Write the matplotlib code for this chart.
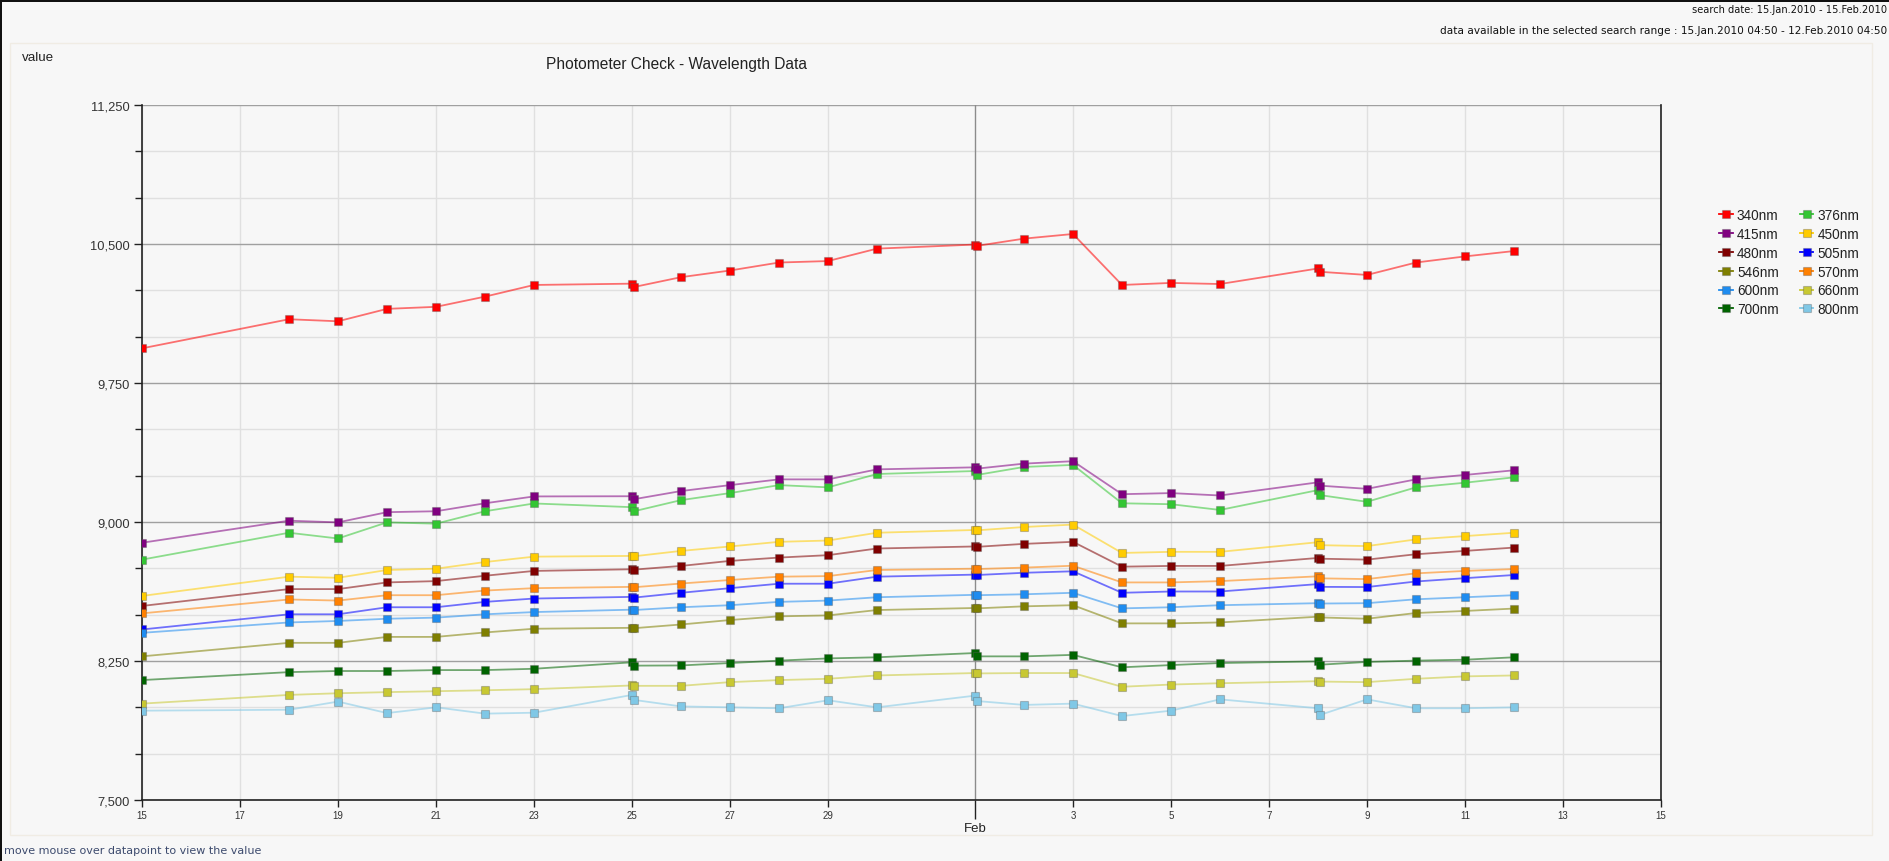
import matplotlib
matplotlib.use("Agg")
import matplotlib.pyplot as plt
from matplotlib.lines import Line2D
from matplotlib.patches import Rectangle
import pandas as pd
import numpy as np

plt.rcParams['font.family'] = ['Liberation Sans', 'DejaVu Sans']

# ---------------- data ----------------
dates = ["2010-01-15 00:00", "2010-01-18 00:00", "2010-01-19 00:00", "2010-01-20 00:00",
         "2010-01-21 00:00", "2010-01-22 00:00", "2010-01-23 00:00", "2010-01-25 00:00",
         "2010-01-25 01:00", "2010-01-26 00:00", "2010-01-27 00:00", "2010-01-28 00:00",
         "2010-01-29 00:00", "2010-01-30 00:00", "2010-02-01 00:00", "2010-02-01 01:00",
         "2010-02-02 00:00", "2010-02-03 00:00", "2010-02-04 00:00", "2010-02-05 00:00",
         "2010-02-06 00:00", "2010-02-08 00:00", "2010-02-08 01:00", "2010-02-09 00:00",
         "2010-02-10 00:00", "2010-02-11 00:00", "2010-02-12 00:00"]

nm340 = [9937, 10094, 10083, 10150, 10161, 10216, 10279, 10286, 10268, 10321, 10357, 10400, 10408, 10475,
         10497, 10490, 10529, 10554, 10279, 10290, 10284, 10368, 10350, 10333, 10400, 10433, 10462]
nm376 = [8797, 8942, 8911, 8998, 8991, 9058, 9100, 9080, 9058, 9118, 9156, 9199, 9187, 9259,
         9275, 9254, 9297, 9308, 9101, 9096, 9065, 9172, 9145, 9109, 9187, 9212, 9241]
nm415 = [8888, 9007, 8998, 9053, 9058, 9101, 9138, 9139, 9123, 9167, 9199, 9230, 9230, 9284,
         9295, 9288, 9315, 9328, 9150, 9156, 9143, 9214, 9196, 9179, 9230, 9254, 9279]
nm450 = [8601, 8705, 8699, 8741, 8748, 8784, 8813, 8817, 8815, 8844, 8868, 8893, 8900, 8942,
         8957, 8955, 8973, 8986, 8833, 8839, 8839, 8891, 8875, 8870, 8906, 8924, 8942]
nm480 = [8547, 8638, 8638, 8674, 8681, 8710, 8736, 8745, 8743, 8763, 8790, 8808, 8821, 8857,
         8868, 8866, 8882, 8893, 8759, 8763, 8763, 8806, 8802, 8797, 8826, 8844, 8862]
nm505 = [8420, 8502, 8502, 8540, 8540, 8569, 8587, 8596, 8592, 8618, 8643, 8667, 8667, 8705,
         8716, 8714, 8726, 8734, 8618, 8625, 8625, 8665, 8650, 8649, 8679, 8697, 8714]
nm546 = [8275, 8348, 8348, 8380, 8380, 8404, 8424, 8429, 8427, 8447, 8471, 8491, 8496, 8525,
         8536, 8534, 8545, 8551, 8453, 8453, 8458, 8489, 8485, 8478, 8509, 8520, 8533]
nm570 = [8507, 8582, 8576, 8605, 8605, 8630, 8643, 8650, 8648, 8668, 8687, 8705, 8708, 8741,
         8748, 8746, 8754, 8764, 8674, 8674, 8681, 8707, 8696, 8692, 8723, 8736, 8746]
nm600 = [8402, 8458, 8466, 8478, 8484, 8502, 8514, 8527, 8525, 8540, 8551, 8569, 8576, 8594,
         8607, 8605, 8610, 8618, 8534, 8540, 8551, 8562, 8560, 8562, 8583, 8594, 8605]
nm660 = [8020, 8067, 8076, 8082, 8087, 8092, 8098, 8118, 8116, 8116, 8136, 8147, 8154, 8172,
         8185, 8183, 8185, 8185, 8111, 8123, 8130, 8141, 8139, 8136, 8154, 8167, 8172]
nm700 = [8147, 8190, 8196, 8196, 8201, 8201, 8208, 8243, 8225, 8226, 8239, 8252, 8264, 8270,
         8293, 8275, 8275, 8283, 8216, 8228, 8239, 8248, 8230, 8245, 8252, 8257, 8270]
nm800 = [7982, 7987, 8031, 7969, 8000, 7966, 7971, 8067, 8040, 8005, 8000, 7995, 8038, 8000,
         8063, 8034, 8013, 8020, 7953, 7982, 8043, 7995, 7959, 8043, 7995, 7995, 8000]

series_names = ["340nm", "376nm", "415nm", "450nm", "480nm", "505nm",
                "546nm", "570nm", "600nm", "660nm", "700nm", "800nm"]
series_values = [nm340, nm376, nm415, nm450, nm480, nm505,
                 nm546, nm570, nm600, nm660, nm700, nm800]
series_colors = ["#FF0000", "#33C633", "#800080", "#FFCC00", "#800000", "#0000FF",
                 "#7F7F00", "#FF8000", "#1E8CF0", "#C8C832", "#006400", "#80C8E6"]

y_ticks = [7500, 8250, 9000, 9750, 10500, 11250]
x_tick_days = ["2010-01-15", "2010-01-17", "2010-01-19", "2010-01-21", "2010-01-23",
               "2010-01-25", "2010-01-27", "2010-01-29", "2010-02-03",
               "2010-02-05", "2010-02-07", "2010-02-09", "2010-02-11", "2010-02-13",
               "2010-02-15"]
x_tick_labels = ["15", "17", "19", "21", "23", "25", "27", "29", "3", "5", "7",
                 "9", "11", "13", "15"]
month_tick_day = "2010-02-01"
month_tick_label = "Feb"

# ---------------- figure ----------------
W, H = 1889, 862
fig = plt.figure(figsize=(W / 100, H / 100), dpi=100)
bg = "#F7F7F7"
fig.patch.set_facecolor(bg)


def fx(px):
    return px / W


def fy(py):
    return 1 - py / H


# outer black border (top/left) and faint panel outline
fig.add_artist(Rectangle((0, fy(3)), 1, 3 / H, transform=fig.transFigure,
                         facecolor="#111111", edgecolor="none"))
fig.add_artist(Rectangle((0, 0), 2 / W, 1, transform=fig.transFigure,
                         facecolor="#111111", edgecolor="none"))
fig.add_artist(Rectangle((fx(10), fy(836)), fx(1872) - fx(10), fy(44) - fy(836),
                         transform=fig.transFigure, facecolor="none",
                         edgecolor="#F0ECE4", linewidth=1))

ax = fig.add_axes([fx(142), fy(801), fx(1661) - fx(142), fy(106) - fy(801)])
ax.set_facecolor(bg)

x = pd.to_datetime(dates, format="%Y-%m-%d %H:%M")
handles = {}
for name, vals, col in zip(series_names, series_values, series_colors):
    ax.plot(x, vals, color=col, lw=1.3, alpha=0.55, zorder=3, solid_joinstyle="round")
    ax.plot(x, vals, ls="none", marker="s", markersize=5.2, markerfacecolor=col,
            markeredgecolor=(0.35, 0.35, 0.35, 0.35), markeredgewidth=0.8, zorder=4)
    handles[name] = Line2D([], [], color=col, lw=1.3, marker="s", markersize=5.2,
                           markerfacecolor=col,
                           markeredgecolor=(0.35, 0.35, 0.35, 0.35), markeredgewidth=0.8)

# axes limits & ticks
ax.set_xlim(pd.Timestamp("2010-01-15"), pd.Timestamp("2010-02-15"))
ax.set_ylim(y_ticks[0], y_ticks[-1])

xt = pd.to_datetime(x_tick_days, format="%Y-%m-%d")
ax.set_xticks(xt)
ax.set_xticklabels(x_tick_labels)
ax.set_xticks([pd.Timestamp(month_tick_day)], minor=True)
ax.set_xticklabels([month_tick_label], minor=True)
ax.tick_params(axis="x", which="major", length=5, width=1, color="#222222",
               labelsize=7, labelcolor="#333333", pad=2)
ax.tick_params(axis="x", which="minor", length=14, width=1, color="#222222",
               labelsize=9.5, labelcolor="#222222", pad=2)

ax.set_yticks(y_ticks)
ax.set_yticklabels([f"{v:,}" for v in y_ticks])
ax.set_yticks(np.arange(7500, 11251, 250), minor=True)
ax.tick_params(axis="y", which="major", length=6, width=1, color="#222222",
               labelsize=9.3, labelcolor="#333333", pad=3)
ax.tick_params(axis="y", which="minor", length=5, width=1, color="#222222")

# grid
ax.grid(axis="x", which="major", color="#E0E0E0", lw=1, zorder=0)
ax.grid(axis="y", which="minor", color="#E0E0E0", lw=1, zorder=0)
ax.grid(axis="y", which="major", color="#A0A0A0", lw=1, zorder=1)
ax.axvline(pd.Timestamp(month_tick_day), color="#8C8C8C", lw=1, zorder=1)
ax.set_axisbelow(True)

ax.spines["top"].set_visible(False)
for s in ["left", "bottom", "right"]:
    ax.spines[s].set_color("#222222")
    ax.spines[s].set_linewidth(1.2)

# legend (column-wise order)
order = ["340nm", "415nm", "480nm", "546nm", "600nm", "700nm",
         "376nm", "450nm", "505nm", "570nm", "660nm", "800nm"]
leg = fig.legend([handles[n] for n in order], order, ncol=2, frameon=False,
                 loc="upper left", bbox_to_anchor=(fx(1707), fy(197)),
                 fontsize=9.8, handlelength=1.0, handletextpad=0.3,
                 columnspacing=1.55, labelspacing=0.35, labelcolor="#222222")

# texts
fig.text(fx(1887), fy(10), "search date: 15.Jan.2010 - 15.Feb.2010", ha="right",
         va="center", fontsize=7.1, color="#111111", family="DejaVu Sans")
fig.text(fx(1887), fy(31),
         "data available in the selected search range : 15.Jan.2010 04:50 - 12.Feb.2010 04:50",
         ha="right", va="center", fontsize=7.6, color="#111111", family="DejaVu Sans")
fig.text(fx(22), fy(58), "value", ha="left", va="center", fontsize=9.6, color="#222222")
fig.text(fx(676), fy(64), "Photometer Check - Wavelength Data", ha="center",
         va="center", fontsize=11.2, color="#222222")
fig.text(fx(4), fy(851), "move mouse over datapoint to view the value", ha="left",
         va="center", fontsize=8, color="#3D4B6E", family="DejaVu Sans")

fig.savefig("out.png", dpi=100, facecolor=bg)
